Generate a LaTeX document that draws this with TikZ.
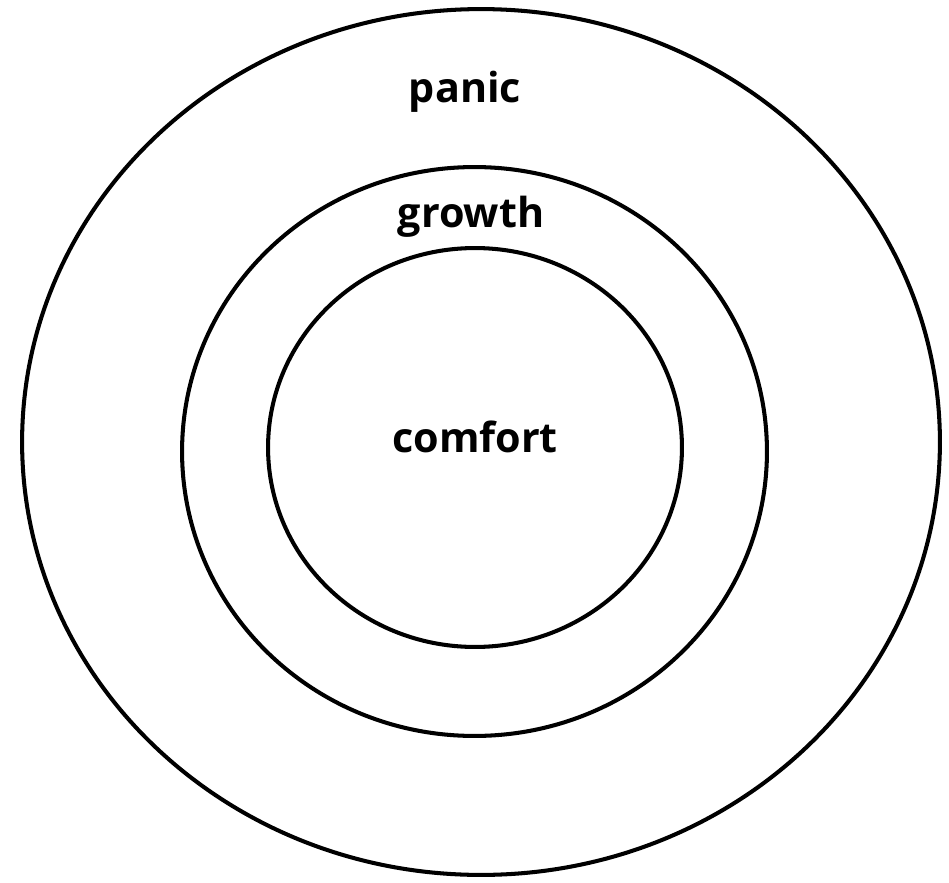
\documentclass[tikz,border=0pt]{standalone}
\usepackage{fontspec}
\setsansfont{Open Sans}
\usetikzlibrary{shapes.geometric}

\begin{document}
\begin{tikzpicture}[
    x=0.02cm, y=-0.02cm,
    every node/.style={font=\sffamily},
    zone/.style={draw=black, ellipse, inner sep=0pt, line width=2.3pt},
    zonelabel/.style={anchor=base, font=\sffamily\bfseries\fontsize{23.5}{28}\selectfont, text=black},
]
\useasboundingbox (0,0) rectangle (949,882);
\node[zone, minimum width=18.36cm, minimum height=17.32cm] (z_panic) at (481,442) {};
\node[zone, minimum width=11.70cm, minimum height=11.38cm] (z_growth) at (474.5,451.5) {};
\node[zone, minimum width=8.28cm, minimum height=7.98cm] (z_comfort) at (475,447.5) {};
\node[zonelabel] (l_panic) at (465,102) {panic};
\node[zonelabel] (l_growth) at (471,227) {growth};
\node[zonelabel] (l_comfort) at (475,452) {comfort};
\end{tikzpicture}
\end{document}
